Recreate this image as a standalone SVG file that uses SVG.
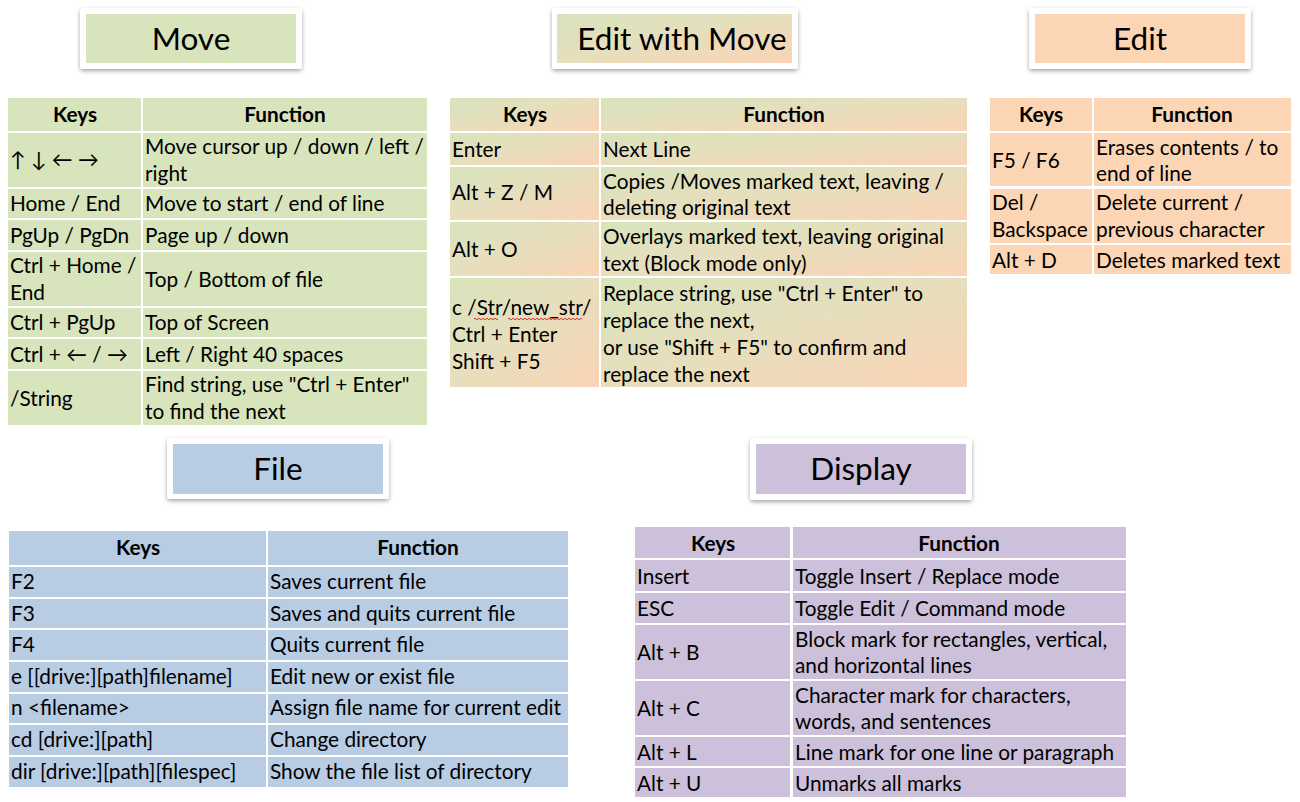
<svg xmlns="http://www.w3.org/2000/svg" width="1300" height="802" viewBox="0 0 1300 802">
<defs>
<linearGradient id="gm" x1="0" y1="0" x2="1" y2="1">
<stop offset="0" stop-color="#D8E4BC"/>
<stop offset="0.5" stop-color="#E7DEBC"/>
<stop offset="1" stop-color="#FAD4B6"/>
</linearGradient>
<filter id="sh" x="-10%" y="-20%" width="120%" height="150%">
<feDropShadow dx="0" dy="2" stdDeviation="2" flood-color="#000" flood-opacity="0.35"/>
</filter>
</defs>
<style>
.t{font-family:Lato,"Open Sans","Liberation Sans",sans-serif;font-size:20.8px;fill:#000}
.h{font-weight:bold;text-anchor:middle}
.tt{font-family:Lato,"Open Sans","Liberation Sans",sans-serif;font-size:31.5px;fill:#000;text-anchor:middle}
.g{fill:#D8E4BC}
.o{fill:#FCD5B4}
.b{fill:#B8CCE4}
.p{fill:#CCC0DA}
.m{fill:url(#gm)}
.box{fill:#fff;filter:url(#sh)}
.wave{fill:none;stroke:#E03030;stroke-width:1}
</style>
<rect width="1300" height="802" fill="#fff"/>

<g id="title-move">
<rect class="box" x="80" y="8" width="222" height="61" rx="3"/>
<rect class="g" x="86" y="14" width="210" height="49"/>
<text class="tt" x="191" y="50">Move</text>
</g>
<g id="title-editmove">
<rect class="box" x="552" y="8" width="246" height="61" rx="3"/>
<rect class="m" x="557" y="14" width="235" height="49"/>
<text class="tt" x="682" y="50">Edit with Move</text>
</g>
<g id="title-edit">
<rect class="box" x="1029" y="8" width="222" height="61" rx="3"/>
<rect class="o" x="1035" y="14" width="210" height="49"/>
<text class="tt" x="1140" y="50">Edit</text>
</g>
<g id="title-file">
<rect class="box" x="167" y="438" width="222" height="61" rx="3"/>
<rect class="b" x="173" y="444" width="210" height="50"/>
<text class="tt" x="278" y="480">File</text>
</g>
<g id="title-display">
<rect class="box" x="750" y="438" width="222" height="62" rx="3"/>
<rect class="p" x="756" y="444" width="210" height="50"/>
<text class="tt" x="861" y="480">Display</text>
</g>

<g id="table-move">
<g class="g">
<rect x="8" y="98" width="133" height="33"/><rect x="143" y="98" width="284" height="33"/>
<rect x="8" y="133" width="133" height="54"/><rect x="143" y="133" width="284" height="54"/>
<rect x="8" y="189" width="133" height="29"/><rect x="143" y="189" width="284" height="29"/>
<rect x="8" y="220" width="133" height="30"/><rect x="143" y="220" width="284" height="30"/>
<rect x="8" y="252" width="133" height="54"/><rect x="143" y="252" width="284" height="54"/>
<rect x="8" y="308" width="133" height="29"/><rect x="143" y="308" width="284" height="29"/>
<rect x="8" y="339" width="133" height="30"/><rect x="143" y="339" width="284" height="30"/>
<rect x="8" y="371" width="133" height="54"/><rect x="143" y="371" width="284" height="54"/>
</g>
<text class="t h" x="75" y="122">Keys</text><text class="t h" x="285" y="122">Function</text>
<text class="t" x="10" y="167">↑ ↓ ← →</text>
<text class="t" x="145" y="154">Move cursor up / down / left /</text><text class="t" x="145" y="181">right</text>
<text class="t" x="10" y="211">Home / End</text><text class="t" x="145" y="211">Move to start / end of line</text>
<text class="t" x="10" y="243">PgUp / PgDn</text><text class="t" x="145" y="243">Page up / down</text>
<text class="t" x="10" y="273">Ctrl + Home /</text><text class="t" x="10" y="300">End</text><text class="t" x="145" y="287">Top / Bottom of file</text>
<text class="t" x="10" y="330">Ctrl + PgUp</text><text class="t" x="145" y="330">Top of Screen</text>
<text class="t" x="10" y="362">Ctrl + ← / →</text><text class="t" x="145" y="362">Left / Right 40 spaces</text>
<text class="t" x="10" y="406">/String</text>
<text class="t" x="145" y="392">Find string, use "Ctrl + Enter"</text><text class="t" x="145" y="419">to find the next</text>
</g>

<g id="table-editmove">
<g class="m">
<rect x="450" y="98" width="149" height="33"/><rect x="601" y="98" width="366" height="33"/>
<rect x="450" y="133" width="149" height="32"/><rect x="601" y="133" width="366" height="32"/>
<rect x="450" y="167" width="149" height="53"/><rect x="601" y="167" width="366" height="53"/>
<rect x="450" y="222" width="149" height="54"/><rect x="601" y="222" width="366" height="54"/>
<rect x="450" y="278" width="149" height="109"/><rect x="601" y="278" width="366" height="109"/>
</g>
<text class="t h" x="525" y="122">Keys</text><text class="t h" x="784" y="122">Function</text>
<text class="t" x="452" y="157">Enter</text><text class="t" x="603" y="157">Next Line</text>
<text class="t" x="452" y="200">Alt + Z / M</text>
<text class="t" x="603" y="189">Copies /Moves marked text, leaving /</text><text class="t" x="603" y="215">deleting original text</text>
<text class="t" x="452" y="257">Alt + O</text>
<text class="t" x="603" y="244">Overlays marked text, leaving original</text><text class="t" x="603" y="271">text (Block mode only)</text>
<text class="t" x="452" y="315">c /Str/new_str/</text><text class="t" x="452" y="342">Ctrl + Enter</text><text class="t" x="452" y="369">Shift + F5</text>
<text class="t" x="603" y="301">Replace string, use "Ctrl + Enter" to</text><text class="t" x="603" y="328">replace the next,</text>
<text class="t" x="603" y="355">or use "Shift + F5" to confirm and</text><text class="t" x="603" y="382">replace the next</text>
<path class="wave" d="M474 319 q1 -1.5 2 0 t2 0 t2 0 t2 0 t2 0 t2 0 t2 0 t2 0 t2 0 t2 0 t2 0 t2 0 M508 319 q1 -1.5 2 0 t2 0 t2 0 t2 0 t2 0 t2 0 t2 0 t2 0 t2 0 t2 0 t2 0 t2 0 t2 0 t2 0 t2 0 t2 0 t2 0 t2 0 t2 0 t2 0 t2 0 t2 0 t2 0 t2 0 t2 0 t2 0 t2 0 t2 0 t2 0 t2 0 t2 0 t2 0 t2 0 t2 0 t2 0 t2 0 t2 0"/>
</g>

<g id="table-edit">
<g class="o">
<rect x="990" y="98" width="102" height="33"/><rect x="1094" y="98" width="197" height="33"/>
<rect x="990" y="133" width="102" height="53"/><rect x="1094" y="133" width="197" height="53"/>
<rect x="990" y="189" width="102" height="54"/><rect x="1094" y="189" width="197" height="54"/>
<rect x="990" y="245" width="102" height="29"/><rect x="1094" y="245" width="197" height="29"/>
</g>
<text class="t h" x="1041" y="122">Keys</text><text class="t h" x="1192" y="122">Function</text>
<text class="t" x="992" y="168">F5 / F6</text>
<text class="t" x="1096" y="155">Erases contents / to</text><text class="t" x="1096" y="181">end of line</text>
<text class="t" x="992" y="210">Del /</text><text class="t" x="992" y="237">Backspace</text>
<text class="t" x="1096" y="210">Delete current /</text><text class="t" x="1096" y="237">previous character</text>
<text class="t" x="992" y="268">Alt + D</text><text class="t" x="1096" y="268">Deletes marked text</text>
</g>

<g id="table-file">
<g class="b">
<rect x="9" y="531" width="257" height="34"/><rect x="268" y="531" width="300" height="34"/>
<rect x="9" y="567" width="257" height="30"/><rect x="268" y="567" width="300" height="30"/>
<rect x="9" y="599" width="257" height="29"/><rect x="268" y="599" width="300" height="29"/>
<rect x="9" y="630" width="257" height="30"/><rect x="268" y="630" width="300" height="30"/>
<rect x="9" y="662" width="257" height="30"/><rect x="268" y="662" width="300" height="30"/>
<rect x="9" y="694" width="257" height="29"/><rect x="268" y="694" width="300" height="29"/>
<rect x="9" y="725" width="257" height="30"/><rect x="268" y="725" width="300" height="30"/>
<rect x="9" y="757" width="257" height="30"/><rect x="268" y="757" width="300" height="30"/>
</g>
<text class="t h" x="138" y="555">Keys</text><text class="t h" x="418" y="555">Function</text>
<text class="t" x="11" y="589">F2</text><text class="t" x="270" y="589">Saves current file</text>
<text class="t" x="11" y="621">F3</text><text class="t" x="270" y="621">Saves and quits current file</text>
<text class="t" x="11" y="652">F4</text><text class="t" x="270" y="652">Quits current file</text>
<text class="t" x="11" y="684">e [[drive:][path]filename]</text><text class="t" x="270" y="684">Edit new or exist file</text>
<text class="t" x="11" y="715">n &lt;filename&gt;</text><text class="t" x="270" y="715">Assign file name for current edit</text>
<text class="t" x="11" y="747">cd [drive:][path]</text><text class="t" x="270" y="747">Change directory</text>
<text class="t" x="11" y="779">dir [drive:][path][filespec]</text><text class="t" x="270" y="779">Show the file list of directory</text>
</g>

<g id="table-display">
<g class="p">
<rect x="635" y="527" width="155" height="31"/><rect x="793" y="527" width="333" height="31"/>
<rect x="635" y="560" width="155" height="31"/><rect x="793" y="560" width="333" height="31"/>
<rect x="635" y="593" width="155" height="30"/><rect x="793" y="593" width="333" height="30"/>
<rect x="635" y="625" width="155" height="54"/><rect x="793" y="625" width="333" height="54"/>
<rect x="635" y="681" width="155" height="54"/><rect x="793" y="681" width="333" height="54"/>
<rect x="635" y="737" width="155" height="29"/><rect x="793" y="737" width="333" height="29"/>
<rect x="635" y="768" width="155" height="29"/><rect x="793" y="768" width="333" height="29"/>
</g>
<text class="t h" x="713" y="551">Keys</text><text class="t h" x="959" y="551">Function</text>
<text class="t" x="637" y="584">Insert</text><text class="t" x="795" y="584">Toggle Insert / Replace mode</text>
<text class="t" x="637" y="616">ESC</text><text class="t" x="795" y="616">Toggle Edit / Command mode</text>
<text class="t" x="637" y="660">Alt + B</text>
<text class="t" x="795" y="647">Block mark for rectangles, vertical,</text><text class="t" x="795" y="673">and horizontal lines</text>
<text class="t" x="637" y="716">Alt + C</text>
<text class="t" x="795" y="703">Character mark for characters,</text><text class="t" x="795" y="729">words, and sentences</text>
<text class="t" x="637" y="760">Alt + L</text><text class="t" x="795" y="760">Line mark for one line or paragraph</text>
<text class="t" x="637" y="791">Alt + U</text><text class="t" x="795" y="791">Unmarks all marks</text>
</g>
</svg>
